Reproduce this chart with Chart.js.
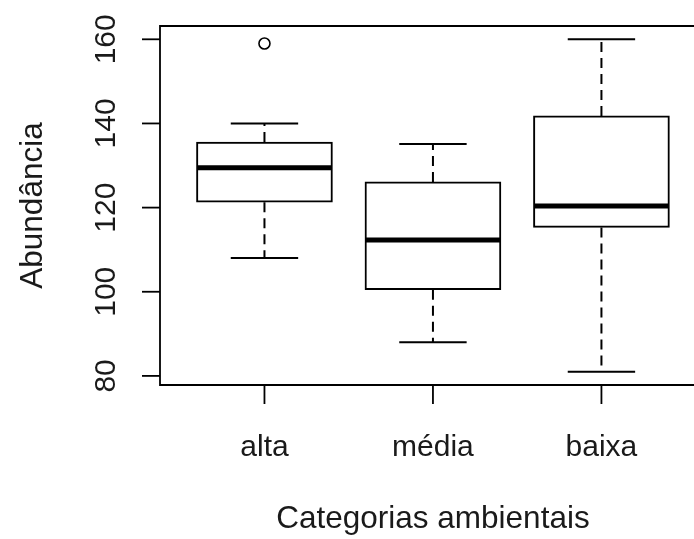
<!DOCTYPE html>
<html>
<head>
<meta charset="utf-8">
<script src="https://cdn.jsdelivr.net/npm/chart.js@4.4.1/dist/chart.umd.min.js"></script>
<style>
  html, body { margin: 0; padding: 0; background: #fff; overflow: hidden; }
  #wrap { width: 694px; height: 539px; overflow: hidden; }
</style>
</head>
<body>
<div id="wrap"><canvas id="chart" width="713" height="539"></canvas></div>
<script>
// Box-plot values
const categories = ['alta', 'média', 'baixa'];
const whiskerLow = [108, 88, 81];
const q1 = [121.3, 100.5, 115.3];
const median = [129.5, 112.3, 120.4];
const q3 = [135.6, 126.1, 141.8];
const whiskerHigh = [140, 135.1, 160];
const outliers = [{ group: 0, value: 159 }];
const yTicks = [80, 100, 120, 140, 160];

const FONT = '"Liberation Sans", Arial, sans-serif';
const BOX_HALF = 0.4;
const CAP_HALF = 0.2;

const whiskerPts = [];
const capPts = [];
const medianPts = [];
categories.forEach((c, i) => {
  const x = i + 1;
  whiskerPts.push({ x, y: q3[i] }, { x, y: whiskerHigh[i] }, { x, y: null });
  whiskerPts.push({ x, y: q1[i] }, { x, y: whiskerLow[i] }, { x, y: null });
  capPts.push({ x: x - CAP_HALF, y: whiskerHigh[i] }, { x: x + CAP_HALF, y: whiskerHigh[i] }, { x, y: null });
  capPts.push({ x: x - CAP_HALF, y: whiskerLow[i] }, { x: x + CAP_HALF, y: whiskerLow[i] }, { x, y: null });
  medianPts.push({ x: x - BOX_HALF, y: median[i] }, { x: x + BOX_HALF, y: median[i] }, { x, y: null });
});

// frame, ticks and labels in R's style
const rAxes = {
  id: 'rAxes',
  afterDraw(chart) {
    const { ctx, chartArea: a, scales } = chart;
    ctx.save();
    ctx.strokeStyle = '#000';
    ctx.lineWidth = 1.8;
    ctx.beginPath();
    ctx.moveTo(a.right, a.top); ctx.lineTo(a.left, a.top);
    ctx.lineTo(a.left, a.bottom); ctx.lineTo(a.right, a.bottom);
    ctx.stroke();

    ctx.fillStyle = '#1a1a1a';
    ctx.font = '30px ' + FONT;

    // y axis
    yTicks.forEach((v) => {
      const y = scales.y.getPixelForValue(v);
      ctx.beginPath();
      ctx.moveTo(a.left, y); ctx.lineTo(a.left - 18, y);
      ctx.stroke();
      ctx.save();
      ctx.translate(115, y);
      ctx.rotate(-Math.PI / 2);
      ctx.textAlign = 'center';
      ctx.textBaseline = 'alphabetic';
      ctx.fillText(String(v), 0, 0);
      ctx.restore();
    });

    // x axis
    categories.forEach((c, i) => {
      const x = scales.x.getPixelForValue(i + 1);
      ctx.beginPath();
      ctx.moveTo(x, a.bottom); ctx.lineTo(x, a.bottom + 19);
      ctx.stroke();
      ctx.textAlign = 'center';
      ctx.textBaseline = 'alphabetic';
      ctx.fillText(c, x, 456);
    });

    ctx.font = '31.5px ' + FONT;
    ctx.textAlign = 'center';
    ctx.fillText('Categorias ambientais', scales.x.getPixelForValue(2), 528);

    ctx.save();
    ctx.translate(42, (a.top + a.bottom) / 2);
    ctx.rotate(-Math.PI / 2);
    ctx.fillText('Abundância', 0, 0);
    ctx.restore();
    ctx.restore();
  }
};

new Chart(document.getElementById('chart'), {
  type: 'bar',
  data: {
    datasets: [
      {
        type: 'line', order: 1, data: medianPts,
        borderColor: '#000', borderWidth: 5, borderCapStyle: 'butt',
        pointRadius: 0, spanGaps: false, fill: false,
      },
      {
        type: 'line', order: 2, data: capPts,
        borderColor: '#000', borderWidth: 2, borderCapStyle: 'butt',
        pointRadius: 0, spanGaps: false, fill: false,
      },
      {
        type: 'line', order: 3, data: whiskerPts,
        borderColor: '#000', borderWidth: 2, borderDash: [10, 6], borderCapStyle: 'butt',
        pointRadius: 0, spanGaps: false, fill: false,
      },
      {
        type: 'line', order: 4,
        data: outliers.map(o => ({ x: o.group + 1, y: o.value })),
        showLine: false, pointRadius: 5.5, pointStyle: 'circle',
        pointBackgroundColor: '#fff', pointBorderColor: '#000', pointBorderWidth: 1.6,
      },
      {
        type: 'bar', order: 5,
        data: categories.map((c, i) => ({ x: i + 1, y: [q1[i], q3[i]] })),
        backgroundColor: '#fff', borderColor: '#000', borderWidth: 2,
        borderSkipped: false, barThickness: 136,
      },
    ]
  },
  options: {
    responsive: false,
    animation: false,
    devicePixelRatio: 1,
    layout: { padding: { left: 160, top: 26, right: 0, bottom: 154 } },
    scales: {
      x: { type: 'linear', min: 0.38, max: 3.62, offset: false, display: false },
      y: { min: 77.84, max: 163.16, display: false },
    },
    plugins: { legend: { display: false }, tooltip: { enabled: false } },
  },
  plugins: [rAxes],
});
</script>
</body>
</html>
